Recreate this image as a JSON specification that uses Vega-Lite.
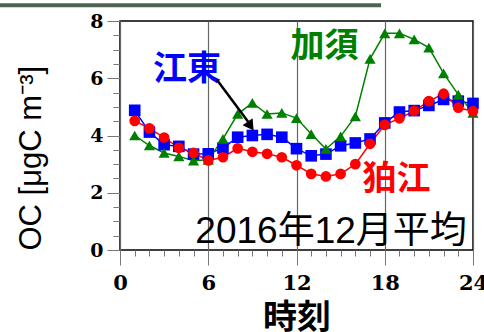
{
  "$schema": "https://vega.github.io/schema/vega-lite/v6.json",
  "width": 353,
  "height": 229,
  "autosize": "none",
  "padding": {"left": 120, "top": 21, "right": 11, "bottom": 82},
  "background": "white",
  "config": {"view": {"stroke": "black", "strokeWidth": 1.5}},
  "datasets": {
    "oc": [
      {"site": "江東", "hour": 1, "oc": 4.88}, {"site": "江東", "hour": 2, "oc": 4.12}, {"site": "江東", "hour": 3, "oc": 3.68}, {"site": "江東", "hour": 4, "oc": 3.62},
      {"site": "江東", "hour": 5, "oc": 3.35}, {"site": "江東", "hour": 6, "oc": 3.36}, {"site": "江東", "hour": 7, "oc": 3.56}, {"site": "江東", "hour": 8, "oc": 3.94},
      {"site": "江東", "hour": 9, "oc": 4.0}, {"site": "江東", "hour": 10, "oc": 4.04}, {"site": "江東", "hour": 11, "oc": 3.94}, {"site": "江東", "hour": 12, "oc": 3.54},
      {"site": "江東", "hour": 13, "oc": 3.29}, {"site": "江東", "hour": 14, "oc": 3.35}, {"site": "江東", "hour": 15, "oc": 3.64}, {"site": "江東", "hour": 16, "oc": 3.74},
      {"site": "江東", "hour": 17, "oc": 3.88}, {"site": "江東", "hour": 18, "oc": 4.44}, {"site": "江東", "hour": 19, "oc": 4.82}, {"site": "江東", "hour": 20, "oc": 4.87},
      {"site": "江東", "hour": 21, "oc": 5.05}, {"site": "江東", "hour": 22, "oc": 5.26}, {"site": "江東", "hour": 23, "oc": 5.2}, {"site": "江東", "hour": 24, "oc": 5.12},
      {"site": "加須", "hour": 1, "oc": 4.0}, {"site": "加須", "hour": 2, "oc": 3.65}, {"site": "加須", "hour": 3, "oc": 3.39}, {"site": "加須", "hour": 4, "oc": 3.27},
      {"site": "加須", "hour": 5, "oc": 3.12}, {"site": "加須", "hour": 6, "oc": 3.15}, {"site": "加須", "hour": 7, "oc": 3.88}, {"site": "加須", "hour": 8, "oc": 4.75},
      {"site": "加須", "hour": 9, "oc": 5.14}, {"site": "加須", "hour": 10, "oc": 4.75}, {"site": "加須", "hour": 11, "oc": 4.79}, {"site": "加須", "hour": 12, "oc": 4.61},
      {"site": "加須", "hour": 13, "oc": 4.05}, {"site": "加須", "hour": 14, "oc": 3.53}, {"site": "加須", "hour": 15, "oc": 3.97}, {"site": "加須", "hour": 16, "oc": 4.67},
      {"site": "加須", "hour": 17, "oc": 6.68}, {"site": "加須", "hour": 18, "oc": 7.57}, {"site": "加須", "hour": 19, "oc": 7.57}, {"site": "加須", "hour": 20, "oc": 7.36},
      {"site": "加須", "hour": 21, "oc": 7.07}, {"site": "加須", "hour": 22, "oc": 6.17}, {"site": "加須", "hour": 23, "oc": 5.43}, {"site": "加須", "hour": 24, "oc": 4.79},
      {"site": "狛江", "hour": 1, "oc": 4.51}, {"site": "狛江", "hour": 2, "oc": 4.25}, {"site": "狛江", "hour": 3, "oc": 3.93}, {"site": "狛江", "hour": 4, "oc": 3.57},
      {"site": "狛江", "hour": 5, "oc": 3.39}, {"site": "狛江", "hour": 6, "oc": 3.13}, {"site": "狛江", "hour": 7, "oc": 3.24}, {"site": "狛江", "hour": 8, "oc": 3.55},
      {"site": "狛江", "hour": 9, "oc": 3.43}, {"site": "狛江", "hour": 10, "oc": 3.36}, {"site": "狛江", "hour": 11, "oc": 3.24}, {"site": "狛江", "hour": 12, "oc": 2.96},
      {"site": "狛江", "hour": 13, "oc": 2.66}, {"site": "狛江", "hour": 14, "oc": 2.57}, {"site": "狛江", "hour": 15, "oc": 2.66}, {"site": "狛江", "hour": 16, "oc": 3.0},
      {"site": "狛江", "hour": 17, "oc": 3.71}, {"site": "狛江", "hour": 18, "oc": 4.37}, {"site": "狛江", "hour": 19, "oc": 4.6}, {"site": "狛江", "hour": 20, "oc": 4.86},
      {"site": "狛江", "hour": 21, "oc": 5.2}, {"site": "狛江", "hour": 22, "oc": 5.46}, {"site": "狛江", "hour": 23, "oc": 4.97}, {"site": "狛江", "hour": 24, "oc": 4.85}
    ],
    "labels": [
      {"text": "江東", "hour": 4.55, "oc": 6.3, "site": "江東"},
      {"text": "加須", "hour": 13.9, "oc": 7.1, "site": "加須"},
      {"text": "狛江", "hour": 18.8, "oc": 2.45, "site": "狛江"}
    ],
    "note": [{"text": "2016年12月平均", "hour": 14.35, "oc": 0.62}],
    "arrow": [{"hour": 6.6, "oc": 5.94, "hour2": 8.75, "oc2": 4.45}],
    "arrowhead": [{"hour": 8.88, "oc": 4.33}],
    "deco": [{"hour": -8.2, "hour2": 17.75, "oc": 8.55}]
  },
  "encoding": {
    "x": {
      "field": "hour", "type": "quantitative",
      "scale": {"domain": [0, 24], "nice": false, "zero": false},
      "axis": {
        "title": "時刻",
        "titleFont": "Noto Sans CJK JP", "titleFontSize": 34, "titleFontWeight": "bold", "titleColor": "black", "titlePadding": 8,
        "values": [0,1,2,3,4,5,6,7,8,9,10,11,12,13,14,15,16,17,18,19,20,21,22,23,24],
        "labelExpr": "datum.value % 6 === 0 ? format(datum.value, 'd') : ''",
        "labelFont": "DejaVu Serif", "labelFontSize": 21, "labelFontWeight": "bold", "labelColor": "black", "labelPadding": 7,
        "labelFlush": false,
        "tickSize": {"condition": {"test": "datum.value % 6 === 0", "value": 15}, "value": 6},
        "tickColor": "#777", "tickWidth": 1,
        "domain": false,
        "grid": true, "gridColor": "#666", "gridWidth": 1.2,
        "gridOpacity": {"condition": {"test": "datum.value % 6 === 0", "value": 1}, "value": 0}
      }
    },
    "y": {
      "field": "oc", "type": "quantitative",
      "scale": {"domain": [0, 8], "nice": false},
      "axis": {
        "title": "OC [μgC m⁻³]",
        "titleFont": "Liberation Sans", "titleFontSize": 31, "titleFontWeight": "normal", "titleColor": "black", "titlePadding": 42,
        "titleAnchor": "start",
        "values": [0,0.5,1,1.5,2,2.5,3,3.5,4,4.5,5,5.5,6,6.5,7,7.5,8],
        "labelExpr": "datum.value % 2 === 0 ? format(datum.value, 'd') : ''",
        "labelFont": "DejaVu Serif", "labelFontSize": 19, "labelFontWeight": "bold", "labelColor": "black", "labelPadding": 4,
        "labelFlush": false,
        "tickSize": {"condition": {"test": "datum.value % 2 === 0", "value": 13}, "value": 7},
        "tickColor": "#777", "tickWidth": 1,
        "domain": false, "grid": false
      }
    }
  },
  "layer": [
    {
      "data": {"name": "oc"},
      "mark": {"type": "line", "strokeWidth": 1.5},
      "encoding": {
        "color": {"field": "site", "type": "nominal", "scale": {"domain": ["江東", "加須", "狛江"], "range": ["#0000ff", "#008000", "#ff0000"]}, "legend": null},
        "detail": {"field": "site"}
      }
    },
    {
      "data": {"name": "oc"},
      "mark": {"type": "point", "filled": true, "opacity": 1},
      "encoding": {
        "color": {"field": "site", "type": "nominal", "scale": {"domain": ["江東", "加須", "狛江"], "range": ["#0000ff", "#008000", "#ff0000"]}, "legend": null},
        "shape": {"field": "site", "type": "nominal", "scale": {"domain": ["江東", "加須", "狛江"], "range": ["square", "triangle-up", "circle"]}, "legend": null},
        "size": {"field": "site", "type": "nominal", "scale": {"domain": ["江東", "加須", "狛江"], "range": [135, 115, 125]}, "legend": null}
      }
    },
    {
      "data": {"name": "labels"},
      "mark": {"type": "text", "font": "Noto Sans CJK JP", "fontSize": 34, "fontWeight": "bold", "align": "center", "baseline": "middle"},
      "encoding": {
        "text": {"field": "text"},
        "color": {"field": "site", "type": "nominal", "scale": {"domain": ["江東", "加須", "狛江"], "range": ["#1a44ff", "#0a8a0a", "#ff0000"]}, "legend": null}
      }
    },
    {
      "data": {"name": "note"},
      "mark": {"type": "text", "font": "Liberation Sans, Noto Sans CJK JP", "fontSize": 37, "fontWeight": "normal", "align": "center", "baseline": "middle", "color": "black"},
      "encoding": {
        "text": {"field": "text"}
      }
    },
    {
      "data": {"name": "arrow"},
      "mark": {"type": "rule", "color": "black", "strokeWidth": 2.5},
      "encoding": {
        "x2": {"field": "hour2"},
        "y2": {"field": "oc2"}
      }
    },
    {
      "data": {"name": "arrowhead"},
      "mark": {"type": "point", "shape": "triangle-up", "filled": true, "color": "black", "opacity": 1, "size": 150, "angle": 145},
      "encoding": {}
    },
    {
      "data": {"name": "deco"},
      "mark": {"type": "rule", "color": "#4f6352", "strokeWidth": 4, "clip": false},
      "encoding": {
        "x2": {"field": "hour2"}
      }
    }
  ]
}
